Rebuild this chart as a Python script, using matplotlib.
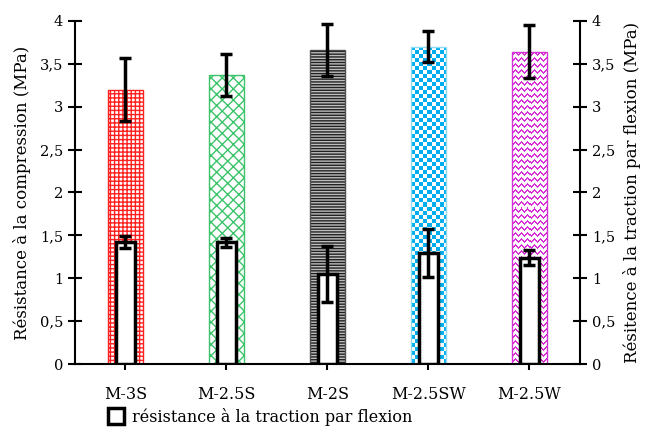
import matplotlib.pyplot as plt
from matplotlib.colors import to_rgba
from matplotlib.patches import Patch
from matplotlib.ticker import FuncFormatter, MultipleLocator
import numpy as np

categories = ["M-3S", "M-2.5S", "M-2S", "M-2.5SW", "M-2.5W"]
compression = [3.20, 3.37, 3.66, 3.70, 3.64]
compression_err = [0.37, 0.24, 0.30, 0.18, 0.31]
flexion = [1.42, 1.42, 1.05, 1.29, 1.24]
flexion_err = [0.07, 0.05, 0.33, 0.28, 0.09]

# fill / hatch / hatch colour for each compression bar (None -> image pattern)
styles = [
    ("white", "++++", "#ff2020"),
    ("white", "xxx", "#3cc46a"),
    ("#bdbdbd", "------", "#202020"),
    ("white", None, "checker"),
    ("white", None, "zigzag"),
]
outline = ["#ff2020", "#3cc46a", "#505050", "#8fdaf7", "#d62fd6"]


def pattern(kind, w, h):
    """RGBA pixel pattern of w x h pixels (row 0 at the top)."""
    r, c = np.mgrid[0:h, 0:w]
    img = np.ones((h, w, 4))
    if kind == "checker":
        on = ((r // 4) + (c // 4)) % 2 == 0
        img[on] = to_rgba("#00aeef")
    else:
        tri = np.abs((c % 6) - 3)
        on = ((r - tri) % 6 == 0) | ((r - tri) % 6 == 1)
        img[on] = to_rgba("#d62fd6")
    return img


plt.rcParams["font.family"] = ["DejaVu Serif"]
plt.rcParams["hatch.linewidth"] = 1.0

fig = plt.figure(figsize=(6.48, 4.28), dpi=100)
ax = fig.add_axes([0.1157, 0.1495, 0.7793, 0.8015])
x = np.arange(len(categories))
ax.set_xlim(-0.5, len(categories) - 0.5)
ax.set_ylim(0, 4)

for i, (fc, hatch, hc) in enumerate(styles):
    if hatch is not None:
        ax.bar(x[i], compression[i], width=0.34, facecolor=fc, edgecolor=hc,
               hatch=hatch, linewidth=0, zorder=2)
    else:
        bar = ax.bar(x[i], compression[i], width=0.34, facecolor=fc,
                     linewidth=0, zorder=2)[0]
        bb = bar.get_window_extent()
        img = pattern(hc, max(int(round(bb.width)), 1), max(int(round(bb.height)), 1))
        im = ax.imshow(img, extent=[bar.get_x(), bar.get_x() + bar.get_width(), 0,
                                    compression[i]],
                       aspect="auto", interpolation="nearest", zorder=2)
        im.set_clip_path(bar)
    ax.bar(x[i], compression[i], width=0.34, facecolor="none",
           edgecolor=outline[i], linewidth=1.0, zorder=2)
ax.set_xlim(-0.5, len(categories) - 0.5)
ax.set_ylim(0, 4)
ax.errorbar(x, compression, yerr=compression_err, fmt="none", ecolor="black",
            elinewidth=2.5, capsize=4, capthick=2.5, zorder=3)

ax.bar(x, flexion, width=0.19, facecolor="white", edgecolor="black",
       linewidth=2.5, zorder=4)
ax.errorbar(x, flexion, yerr=flexion_err, fmt="none", ecolor="black",
            elinewidth=2.5, capsize=4, capthick=2.5, zorder=5)

comma = FuncFormatter(lambda v, p: f"{v:g}".replace(".", ","))
ax.yaxis.set_major_locator(MultipleLocator(0.5))
ax.yaxis.set_major_formatter(comma)
ax.set_xticks(x)
ax.set_xticklabels(categories, fontsize=11.5)
ax.tick_params(axis="x", direction="inout", length=8, width=1.5, pad=12)
ax.tick_params(axis="y", direction="inout", length=10, width=1.5, labelsize=10.5)
ax.set_ylabel("Résistance à la compression (MPa)", fontsize=12, labelpad=6)
for s in ["top", "right"]:
    ax.spines[s].set_visible(False)
for s in ["left", "bottom"]:
    ax.spines[s].set_linewidth(1.5)

ax2 = ax.twinx()
ax2.set_ylim(0, 4)
ax2.yaxis.set_major_locator(MultipleLocator(0.5))
ax2.yaxis.set_major_formatter(comma)
ax2.tick_params(axis="y", direction="inout", length=10, width=1.5, labelsize=10.5)
ax2.set_ylabel("Résitence à la traction par flexion (MPa)", fontsize=12, labelpad=6)
for s in ["top", "left", "bottom"]:
    ax2.spines[s].set_visible(False)
ax2.spines["right"].set_linewidth(1.5)

handle = Patch(facecolor="white", edgecolor="black", linewidth=2.5)
fig.legend([handle], ["résistance à la traction par flexion"], loc="lower left",
           bbox_to_anchor=(0.145, -0.028), frameon=False, fontsize=11.5,
           handlelength=1.0, handleheight=1.2, handletextpad=0.5)

fig.savefig("out.png", dpi=100)
